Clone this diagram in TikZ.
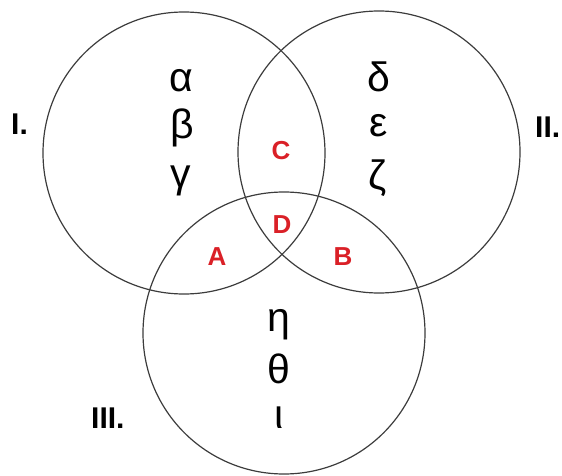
\documentclass[tikz,border=0pt]{standalone}
\usepackage{fontspec}
\setmainfont{Liberation Sans}
\definecolor{venred}{RGB}{218,32,39}
\definecolor{vengray}{RGB}{60,60,60}
\begin{document}
\begin{tikzpicture}[x=1pt,y=-1pt,
  ring/.style={draw=vengray,line width=1.2pt},
  greek/.style={anchor=base,inner sep=0pt,font=\fontsize{41}{41}\selectfont},
  region/.style={anchor=base,inner sep=0pt,text=venred,font=\fontsize{26}{26}\selectfont\bfseries},
  setlabel/.style={anchor=base west,inner sep=0pt,font=\fontsize{30}{30}\selectfont\bfseries}]
\useasboundingbox (0,0) rectangle (562,476);
\draw[ring] (184,153) circle[radius=141];
\draw[ring] (379,152) circle[radius=141];
\draw[ring] (284,333) circle[radius=141];
% set I
\node[greek] (alpha) at (181,92) {α};
\node[greek] (beta) at (182,139) {β};
\node[greek] (gamma) at (181,187) {γ};
% set II
\node[greek] (delta) at (379,92) {δ};
\node[greek] (epsilon) at (379,137) {ε};
\node[greek] (zeta) at (378,189) {ζ};
% set III
\node[greek] (eta) at (279,331) {η};
\node[greek] (theta) at (279,383) {θ};
\node[greek] (iota) at (279,428) {ι};
% regions
\node[region] (C) at (281,160) {C};
\node[region] (D) at (282,233) {D};
\node[region] (A) at (217,265) {A};
\node[region] (B) at (343,265) {B};
% labels
\node[setlabel] (l1) at (11,135) {I.};
\node[setlabel] (l2) at (535,138) {II.};
\node[setlabel] (l3) at (91,428) {III.};
\end{tikzpicture}
\end{document}
